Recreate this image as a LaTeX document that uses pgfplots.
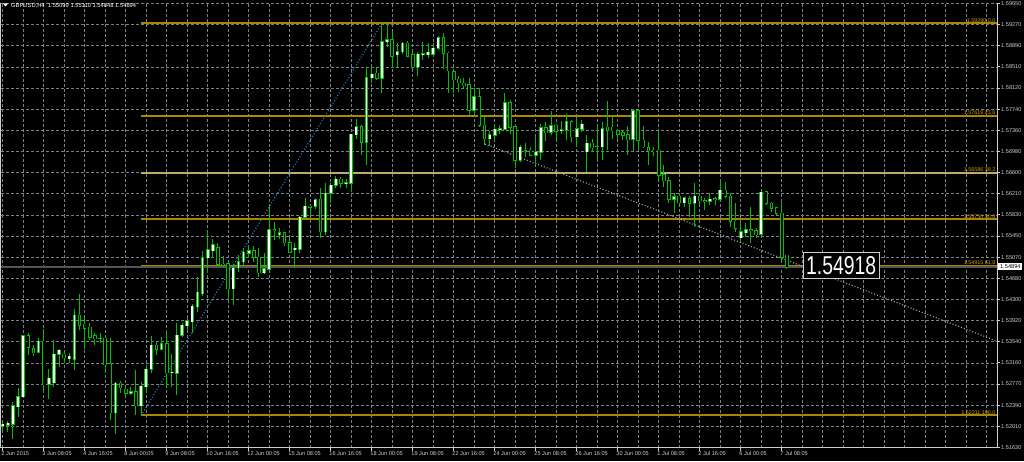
\documentclass[border=0pt]{standalone}
\usepackage{pgfplots}
\pgfplotsset{compat=1.18}
\usepackage{pgfplotstable}
\usepackage{graphicx}
\usepackage{fontspec}
\setmainfont{Liberation Sans}
\definecolor{candlegreen}{RGB}{0,190,0}
\definecolor{fibgold}{RGB}{170,135,0}
\definecolor{fibtext}{RGB}{205,160,0}
\definecolor{fiblight}{RGB}{190,172,110}
\definecolor{gridgray}{RGB}{120,128,136}
\definecolor{axisgray}{RGB}{205,205,205}
\definecolor{trendblue}{RGB}{40,125,185}
\definecolor{trendgray}{RGB}{150,165,172}
\definecolor{bidgray}{RGB}{85,85,85}
\pgfplotstableread{
x O H L C
0 1.5202 1.5209 1.5194 1.5205
1 1.5203 1.5211 1.5191 1.5207
2 1.5205 1.5246 1.5179 1.5238
3 1.5237 1.5270 1.5218 1.5255
4 1.5255 1.5366 1.5252 1.5365
5 1.5365 1.5369 1.5330 1.5344
6 1.5341 1.5348 1.5328 1.5334
7 1.5335 1.5360 1.5333 1.5355
8 1.5355 1.5377 1.5261 1.5276
9 1.5277 1.5304 1.5250 1.5288
10 1.5280 1.5358 1.5272 1.5331
11 1.5331 1.5341 1.5309 1.5339
12 1.5331 1.5336 1.5318 1.5325
13 1.5323 1.5334 1.5315 1.5328
14 1.5322 1.5414 1.5303 1.5402
15 1.5402 1.5441 1.5376 1.5384
16 1.5386 1.5396 1.5340 1.5378
17 1.5380 1.5388 1.5357 1.5362
18 1.5365 1.5369 1.5348 1.5359
19 1.5360 1.5369 1.5351 1.5360
20 1.5360 1.5362 1.5298 1.5312
21 1.5314 1.5360 1.5213 1.5226
22 1.5226 1.5282 1.5188 1.5279
23 1.5279 1.5283 1.5261 1.5271
24 1.5268 1.5273 1.5255 1.5261
25 1.5261 1.5272 1.5258 1.5264
26 1.5264 1.5303 1.5222 1.5238
27 1.5238 1.5282 1.5221 1.5274
28 1.5273 1.5310 1.5261 1.5304
29 1.5304 1.5364 1.5297 1.5348
30 1.5348 1.5354 1.5330 1.5340
31 1.5340 1.5363 1.5339 1.5350
32 1.5350 1.5375 1.5273 1.5298
33 1.5298 1.5332 1.5273 1.5299
34 1.5297 1.5387 1.5258 1.5366
35 1.5366 1.5387 1.5362 1.5384
36 1.5383 1.5396 1.5374 1.5392
37 1.5390 1.5423 1.5369 1.5418
38 1.5417 1.5471 1.5408 1.5443
39 1.5441 1.5518 1.5437 1.5506
40 1.5506 1.5554 1.5479 1.5520
41 1.5518 1.5539 1.5507 1.5529
42 1.5524 1.5532 1.5492 1.5494
43 1.5494 1.5509 1.5489 1.5492
44 1.5495 1.5498 1.5429 1.5450
45 1.5450 1.5495 1.5420 1.5488
46 1.5488 1.5511 1.5480 1.5498
47 1.5498 1.5523 1.5492 1.5516
48 1.5514 1.5526 1.5506 1.5518
49 1.5518 1.5526 1.5498 1.5507
50 1.5507 1.5524 1.5471 1.5479
51 1.5479 1.5514 1.5477 1.5486
52 1.5485 1.5598 1.5482 1.5556
53 1.5556 1.5570 1.5538 1.5554
54 1.5547 1.5559 1.5539 1.5551
55 1.5551 1.5553 1.5527 1.5533
56 1.5533 1.5541 1.5514 1.5516
57 1.5520 1.5532 1.5487 1.5523
58 1.5521 1.5581 1.5514 1.5579
59 1.5579 1.5613 1.5574 1.5599
60 1.5599 1.5601 1.5583 1.5597
61 1.5599 1.5613 1.5593 1.5610
62 1.5611 1.5631 1.5541 1.5553
63 1.5553 1.5640 1.5547 1.5622
64 1.5622 1.5641 1.5605 1.5637
65 1.5637 1.5653 1.5631 1.5647
66 1.5647 1.5651 1.5631 1.5640
67 1.5640 1.5647 1.5631 1.5641
68 1.5640 1.5730 1.5625 1.5729
69 1.5728 1.5756 1.5720 1.5742
70 1.5742 1.5745 1.5691 1.5714
71 1.5714 1.5848 1.5673 1.5831
72 1.5831 1.5851 1.5821 1.5837
73 1.5839 1.5851 1.5827 1.5830
74 1.5830 1.5929 1.5804 1.5896
75 1.5896 1.5929 1.5887 1.5899
76 1.5899 1.5913 1.5848 1.5870
77 1.5872 1.5893 1.5851 1.5878
78 1.5878 1.5896 1.5873 1.5893
79 1.5893 1.5897 1.5869 1.5870
80 1.5872 1.5878 1.5845 1.5851
81 1.5851 1.5877 1.5834 1.5873
82 1.5873 1.5896 1.5863 1.5874
83 1.5872 1.5893 1.5866 1.5877
84 1.5873 1.5893 1.5869 1.5884
85 1.5884 1.5907 1.5881 1.5903
86 1.5903 1.5911 1.5846 1.5875
87 1.5875 1.5877 1.5804 1.5843
88 1.5842 1.5845 1.5804 1.5827
89 1.5828 1.5833 1.5805 1.5822
90 1.5821 1.5830 1.5812 1.5816
91 1.5818 1.5830 1.5763 1.5772
92 1.5772 1.5812 1.5763 1.5796
93 1.5796 1.5812 1.5742 1.5745
94 1.5745 1.5760 1.5709 1.5721
95 1.5721 1.5735 1.5707 1.5728
96 1.5727 1.5745 1.5718 1.5738
97 1.5738 1.5745 1.5730 1.5739
98 1.5738 1.5803 1.5736 1.5786
99 1.5786 1.5790 1.5730 1.5741
100 1.5742 1.5745 1.5667 1.5682
101 1.5682 1.5709 1.5679 1.5705
102 1.5699 1.5712 1.5688 1.5699
103 1.5700 1.5705 1.5689 1.5691
104 1.5691 1.5725 1.5673 1.5696
105 1.5696 1.5748 1.5682 1.5740
106 1.5740 1.5751 1.5717 1.5731
107 1.5732 1.5771 1.5727 1.5744
108 1.5745 1.5748 1.5718 1.5734
109 1.5736 1.5753 1.5730 1.5737
110 1.5736 1.5766 1.5718 1.5751
111 1.5751 1.5754 1.5715 1.5724
112 1.5724 1.5760 1.5707 1.5739
113 1.5738 1.5754 1.5733 1.5747
114 1.5697 1.5727 1.5661 1.5712
115 1.5712 1.5721 1.5697 1.5704
116 1.5706 1.5745 1.5682 1.5706
117 1.5706 1.5750 1.5682 1.5739
118 1.5741 1.5789 1.5700 1.5736
119 1.5741 1.5760 1.5721 1.5735
120 1.5735 1.5739 1.5721 1.5729
121 1.5731 1.5736 1.5718 1.5727
122 1.5728 1.5744 1.5691 1.5719
123 1.5720 1.5775 1.5699 1.5771
124 1.5771 1.5772 1.5700 1.5718
125 1.5718 1.5744 1.5703 1.5706
126 1.5704 1.5715 1.5673 1.5699
127 1.5700 1.5705 1.5690 1.5697
128 1.5700 1.5733 1.5646 1.5655
129 1.5656 1.5673 1.5634 1.5645
130 1.5645 1.5651 1.5604 1.5611
131 1.5611 1.5622 1.5587 1.5616
132 1.5617 1.5622 1.5598 1.5605
133 1.5605 1.5616 1.5598 1.5614
134 1.5612 1.5617 1.5580 1.5604
135 1.5604 1.5640 1.5562 1.5617
136 1.5617 1.5622 1.5601 1.5609
137 1.5609 1.5613 1.5592 1.5608
138 1.5608 1.5622 1.5601 1.5611
139 1.5612 1.5616 1.5601 1.5611
140 1.5611 1.5643 1.5610 1.5628
141 1.5628 1.5643 1.5613 1.5617
142 1.5617 1.5622 1.5562 1.5572
143 1.5572 1.5604 1.5553 1.5559
144 1.5542 1.5571 1.5535 1.5553
145 1.5551 1.5568 1.5544 1.5556
146 1.5556 1.5597 1.5532 1.5554
147 1.5554 1.5559 1.5542 1.5547
148 1.5548 1.5627 1.5548 1.5624
149 1.5625 1.5627 1.5601 1.5604
150 1.5604 1.5607 1.5589 1.5595
151 1.5596 1.5598 1.5583 1.5586
152 1.5586 1.5607 1.5501 1.5507
153 1.55099 1.55110 1.54848 1.54894
}\candles
\pgfplotstableread{
x y len
27 1.59290 167
27 1.57619 167
27 1.55750 167
27 1.54915 167
27 1.52211 167
}\fibs
\pgfplotstableread{
x y len
27 1.56586 167
}\fibmid
\pgfplotstableread{
x y len
-0.33 1.54894 194.33
}\bid
\begin{document}
\begin{tikzpicture}
\path[fill=black, use as bounding box] (0pt,0pt) rectangle (1024pt,461pt);
\begin{axis}[
  at={(1pt,13.5pt)}, anchor=south west,
  scale only axis, width=996pt, height=444.1pt,
  xmin=-0.33, xmax=194.0, ymin=1.5163, ymax=1.5965,
  clip=false,
  axis x line*=bottom, axis y line*=right,
  axis line style={draw=axisgray, line width=1pt},
  tick style={draw=axisgray, line width=0.8pt},
  tick align=outside, major tick length=3pt, minor tick length=0pt,
  xtick={0,8,...,152},
  xticklabels={2 Jun 2015,3 Jun 08:05,4 Jun 16:05,8 Jun 00:05,9 Jun 08:05,10 Jun 16:05,12 Jun 00:05,15 Jun 08:05,16 Jun 16:05,18 Jun 00:05,19 Jun 08:05,22 Jun 16:05,24 Jun 00:05,25 Jun 08:05,26 Jun 16:05,30 Jun 00:05,1 Jul 08:05,2 Jul 16:05,6 Jul 00:05,7 Jul 08:05},
  minor xtick={4,12,20,28,36,44,52,60,68,76,84,92,100,108,116,124,132,140,148,156,160,164,168,172,176,180,184,188,192},
  ytick={1.51630,1.52012,1.52394,1.52776,1.53158,1.53540,1.53921,1.54303,1.54685,1.55067,1.55449,1.55831,1.56213,1.56595,1.56977,1.57359,1.57740,1.58122,1.58504,1.58886,1.59268,1.59650},
  yticklabels={1.51630,1.52010,1.52390,1.52770,1.53160,1.53540,1.53920,1.54300,1.54680,1.55070,1.55450,1.55830,1.56210,1.56600,1.56980,1.57360,1.57740,1.58120,1.58510,1.58890,1.59270,1.59650},
  xmajorgrids, xminorgrids, ymajorgrids,
  major grid style={draw=gridgray, dash pattern=on 3pt off 2pt, line width=0.6pt},
  minor grid style={draw=gridgray, dash pattern=on 3pt off 2pt, line width=0.6pt},
  xticklabel style={font=\fontsize{5.6}{6}\selectfont, text=axisgray, anchor=north west, inner sep=0pt, xshift=-1.5pt, yshift=-1pt},
  yticklabel style={font=\fontsize{5.6}{6}\selectfont, text=axisgray, anchor=west, inner sep=0pt, xshift=1pt},
]
% left border
\addplot[draw=axisgray, line width=1pt, mark=none, forget plot] coordinates {(-0.33,1.5163) (-0.33,1.5965)};
% bid line
\addplot[draw=none, mark=none, forget plot, error bars/.cd, x dir=plus, x explicit, error mark=none,
  error bar style={draw=bidgray, line width=2pt}] table[x=x, y expr={\thisrow{y}-0.00008}, x error=len] {\bid};
% Fibonacci levels
\addplot[draw=none, mark=none, forget plot, error bars/.cd, x dir=plus, x explicit, error mark=none,
  error bar style={draw=fibgold, line width=1.8pt}] table[x=x, y=y, x error=len] {\fibs};
\addplot[draw=none, mark=none, forget plot, error bars/.cd, x dir=plus, x explicit, error mark=none,
  error bar style={draw=fiblight, line width=1.8pt}] table[x=x, y=y, x error=len] {\fibmid};
% trend lines
\addplot[draw=trendblue, line width=1.2pt, dash pattern=on 1pt off 2pt, mark=none, forget plot] coordinates {(27,1.52211) (74,1.59290)};
\addplot[draw=trendgray, line width=1.2pt, dash pattern=on 1pt off 2pt, mark=none, forget plot] coordinates {(94.1,1.5711) (194,1.5355)};
% wicks
\addplot[draw=none, mark=none, forget plot, error bars/.cd, y dir=plus, y explicit, error mark=none,
  error bar style={draw=candlegreen, line width=1pt}]
  table[x=x, y=L, y error plus expr=\thisrow{H}-\thisrow{L}] {\candles};
% body outlines
\addplot[draw=none, mark=none, forget plot, error bars/.cd, y dir=plus, y explicit, error mark=none,
  error bar style={draw=candlegreen, line width=3.6pt}]
  table[x=x, y expr={min(\thisrow{O},\thisrow{C})-0.00009}, y error plus expr={abs(\thisrow{C}-\thisrow{O})+0.00018}] {\candles};
% bull bodies
\addplot[draw=none, mark=none, forget plot, error bars/.cd, y dir=plus, y explicit, error mark=none,
  error bar style={draw=white, line width=1.8pt}]
  table[x=x, y expr={\thisrow{C}>\thisrow{O} ? \thisrow{O} : nan}, y error plus expr={\thisrow{C}-\thisrow{O}}] {\candles};
% bear bodies
\addplot[draw=none, mark=none, forget plot, error bars/.cd, y dir=plus, y explicit, error mark=none,
  error bar style={draw=black, line width=1.8pt}]
  table[x=x, y expr={\thisrow{C}<\thisrow{O} ? \thisrow{C} : nan}, y error plus expr={\thisrow{O}-\thisrow{C}}] {\candles};
% fib labels
\begin{scope}[every node/.style={anchor=south east, text=fibtext, font=\fontsize{5.4}{6}\selectfont, inner sep=0.9pt}]
\node at (axis cs:193.9,1.59290) {1.59290 0.0};
\node at (axis cs:193.9,1.57619) {1.57619 23.6};
\node at (axis cs:193.9,1.56586) {1.56586 38.2};
\node at (axis cs:193.9,1.55750) {1.55750 50.0};
\node at (axis cs:193.9,1.54915) {1.54915 61.8};
\node at (axis cs:193.9,1.52211) {1.52211 100.0};
\end{scope}
% current price on axis
\node[anchor=west, fill=white, text=black, font=\fontsize{5.6}{6}\selectfont, inner xsep=2pt, inner ysep=1.5pt] at (axis cs:194.2,1.54894) {1.54894};
% big price label
\node[draw=axisgray, line width=1.2pt, fill=black, text=white, minimum width=76pt, minimum height=26pt, inner sep=0pt] at (axis cs:163.6,1.5491) {\resizebox{70pt}{18pt}{1.54918}};
\end{axis}
\fill[white] (3pt,457.5pt) -- (8pt,457.5pt) -- (5.5pt,454.5pt) -- cycle;
\node[anchor=west, text=white, inner sep=0pt, font=\fontsize{5.8}{6}\selectfont] at (11pt,455.5pt) {GBPUSD,H4\ \ 1.55099 1.55110 1.54848 1.54894};
\end{tikzpicture}
\end{document}
